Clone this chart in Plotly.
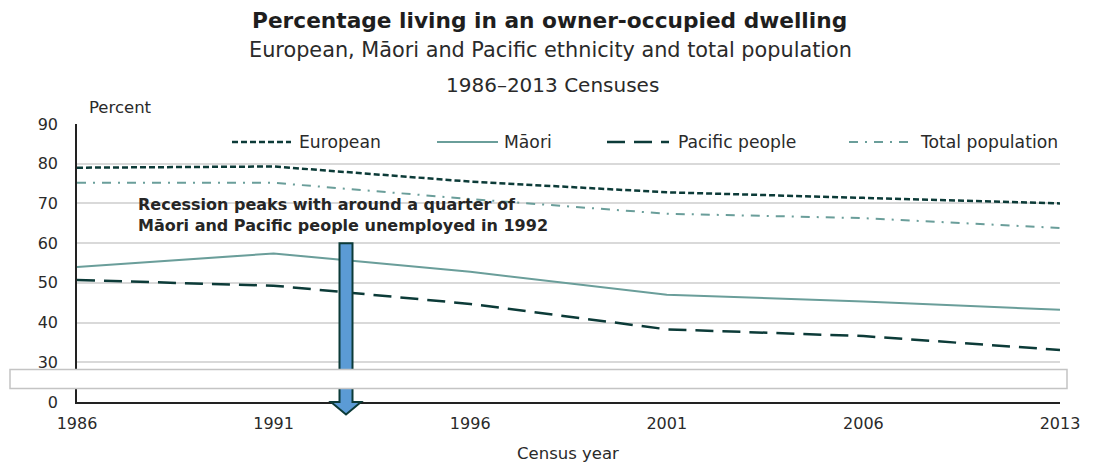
import plotly.graph_objects as go

# ---------------- data ----------------
years = ["1986", "1991", "1996", "2001", "2006", "2013"]
european = [79.0, 79.3, 75.5, 72.8, 71.4, 70.0]
maori = [54.0, 57.4, 52.8, 47.0, 45.3, 43.2]
pacific = [50.7, 49.3, 44.7, 38.3, 36.6, 33.1]
total_pop = [75.2, 75.2, 71.1, 67.4, 66.3, 63.8]

y_tick_labels = ["0", "30", "40", "50", "60", "70", "80", "90"]
y_tick_positions = [20, 30, 40, 50, 60, 70, 80, 90]   # broken axis: "0" drawn one step below 30

series_names = ["European", "Māori", "Pacific people", "Total population"]

# ---------------- styles ----------------
FONT = "DejaVu Sans"
DARK = "#0c3b38"
TEAL = "#6a9e9a"
TXT = "#2a2a2a"

styles = [
    dict(color=DARK, width=2.5, dash="6px,3px"),
    dict(color=TEAL, width=2, dash="solid"),
    dict(color=DARK, width=2.5, dash="18px,9px"),
    dict(color=TEAL, width=2, dash="9px,7px,2px,7px"),
]
values = [european, maori, pacific, total_pop]

fig = go.Figure()
for name, vals, st in zip(series_names, values, styles):
    fig.add_trace(go.Scatter(x=years, y=vals, mode="lines", name=name,
                             line=st, showlegend=False, hoverinfo="skip"))

W, H = 1099, 466
L, R, T, B = 77, 39, 124, 64
pw, ph = W - L - R, H - T - B


def px(x):
    return (x - L) / pw


def py(y):
    return (H - B - y) / ph


shapes = []
annotations = []

# manual legend
legend_pos = [(232, 291, 297), (437, 498, 502), (607, 669, 676), (849, 908, 918)]
for name, st, (x0, x1, xt) in zip(series_names, styles, legend_pos):
    shapes.append(dict(type="line", xref="paper", yref="paper",
                       x0=px(x0), x1=px(x1), y0=py(142), y1=py(142),
                       line=dict(color=st["color"], width=st["width"], dash=st["dash"])))
    annotations.append(dict(text=name, xref="paper", yref="paper", x=px(xt), y=py(142),
                            xanchor="left", yanchor="middle", showarrow=False,
                            font=dict(family=FONT, size=17.2, color=TXT)))

# arrow (block arrow pointing down)
cx = px(346)
hw = px(352.5) - cx
hh = px(361) - cx
ytop = (60 - 20) / 70
ytip = py(414.5)
path = (f"M {cx-hw},{ytop} L {cx+hw},{ytop} L {cx+hw},0 L {cx+hh},0 "
        f"L {cx},{ytip} L {cx-hh},0 L {cx-hw},0 Z")
shapes.append(dict(type="path", xref="paper", yref="paper", path=path,
                   fillcolor="#5b9bd5", line=dict(color=DARK, width=2), layer="above"))

# axis break band
shapes.append(dict(type="rect", xref="paper", yref="paper",
                   x0=px(10), x1=px(1067), y0=py(388.5), y1=py(369.5),
                   fillcolor="white", line=dict(color="#c4c4c4", width=1.5), layer="above"))

# titles
annotations += [
    dict(text="<b>Percentage living in an owner-occupied dwelling</b>", x=px(549), y=py(20),
         font=dict(family=FONT, size=21.7, color="#1e1e1e")),
    dict(text="European, Māori and Pacific ethnicity and total population", x=px(550), y=py(50),
         font=dict(family=FONT, size=20.8, color=TXT)),
    dict(text="1986–2013 Censuses", x=px(552), y=py(85),
         font=dict(family=FONT, size=20, color=TXT)),
    dict(text="Percent", x=px(87), y=py(108), xanchor="left",
         font=dict(family=FONT, size=16.5, color=TXT)),
    dict(text="Census year", x=px(568), y=py(453),
         font=dict(family=FONT, size=16.5, color=TXT)),
    dict(text="<b>Recession peaks with around a quarter of<br>Māori and Pacific people unemployed in 1992</b>",
         x=px(136), y=py(215), xanchor="left", align="left",
         font=dict(family=FONT, size=16, color="#262626")),
]
for a in annotations[-6:]:
    a.setdefault("xref", "paper")
    a.setdefault("yref", "paper")
    a.setdefault("showarrow", False)
    a.setdefault("xanchor", "center")
    a.setdefault("yanchor", "middle")

fig.update_layout(
    width=W, height=H,
    margin=dict(l=L, r=R, t=T, b=B),
    paper_bgcolor="white", plot_bgcolor="white",
    font=dict(family=FONT, size=16, color=TXT),
    shapes=shapes, annotations=annotations,
    hovermode=False,
    xaxis=dict(type="category", range=[0, 5], showgrid=False, showline=True,
               linecolor="#222", linewidth=1.5, ticks="", zeroline=False,
               tickfont=dict(family=FONT, size=16, color=TXT), ticklabelstandoff=6),
    yaxis=dict(range=[20, 90], tickvals=y_tick_positions, ticktext=y_tick_labels,
               showgrid=True, gridcolor="#d9d9d9", gridwidth=1.5, showline=True,
               linecolor="#222", linewidth=1.5, ticks="", zeroline=False,
               tickfont=dict(family=FONT, size=16, color=TXT), ticklabelstandoff=14),
)

fig.write_html("out.html", config={"displayModeBar": False},
               post_script="document.body.style.margin='0';document.body.style.overflow='hidden';")
